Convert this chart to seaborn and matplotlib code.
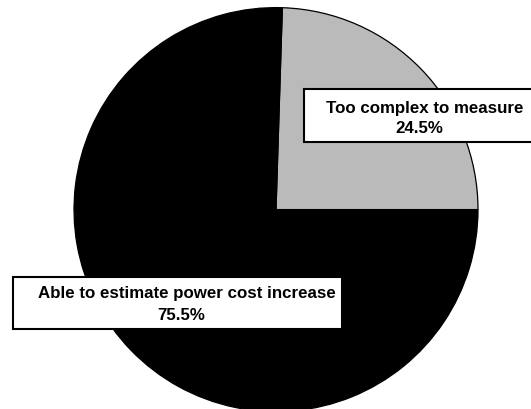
import matplotlib
matplotlib.use("Agg")
import matplotlib.pyplot as plt
from matplotlib.patches import Rectangle
import seaborn as sns

categories = ["Too complex to measure", "Able to estimate power cost increase"]
shares = [24.5, 75.5]
colors = ["#BABABA", "#000000"]

sns.set_theme(style="white")
plt.rcParams["font.family"] = ["Liberation Sans", "DejaVu Sans"]

fig = plt.figure(figsize=(5.31, 4.10), dpi=100)
ax = fig.add_axes([0, 0, 1, 1])
ax.set_xlim(0, 531)
ax.set_ylim(0, 410)
ax.set_aspect("equal")
ax.axis("off")

ax.pie(shares, colors=colors, startangle=0, counterclock=True,
       center=(276, 199.4), radius=202, frame=True,
       wedgeprops=dict(edgecolor="black", linewidth=0.9))
ax.set_xlim(0, 531)
ax.set_ylim(0, 410)
ax.axis("off")

# label boxes
boxes = [
    dict(x0=304, y0=267, w=229, h=53, l1=(425, 297), l2=(419, 277)),
    dict(x0=13, y0=80, w=329, h=52, l1=(187, 112), l2=(181, 90)),
]
for cat, val, b in zip(categories, shares, boxes):
    ax.add_patch(Rectangle((b["x0"], b["y0"]), b["w"], b["h"],
                           facecolor="white", edgecolor="black",
                           linewidth=1.5, zorder=5, clip_on=False))
    ax.text(*b["l1"], cat, ha="center", va="baseline", fontsize=12.2,
            fontweight="bold", color="black", zorder=6)
    ax.text(*b["l2"], f"{val}%", ha="center", va="baseline", fontsize=12.2,
            fontweight="bold", color="black", zorder=6)

fig.savefig("out.png", dpi=100)
